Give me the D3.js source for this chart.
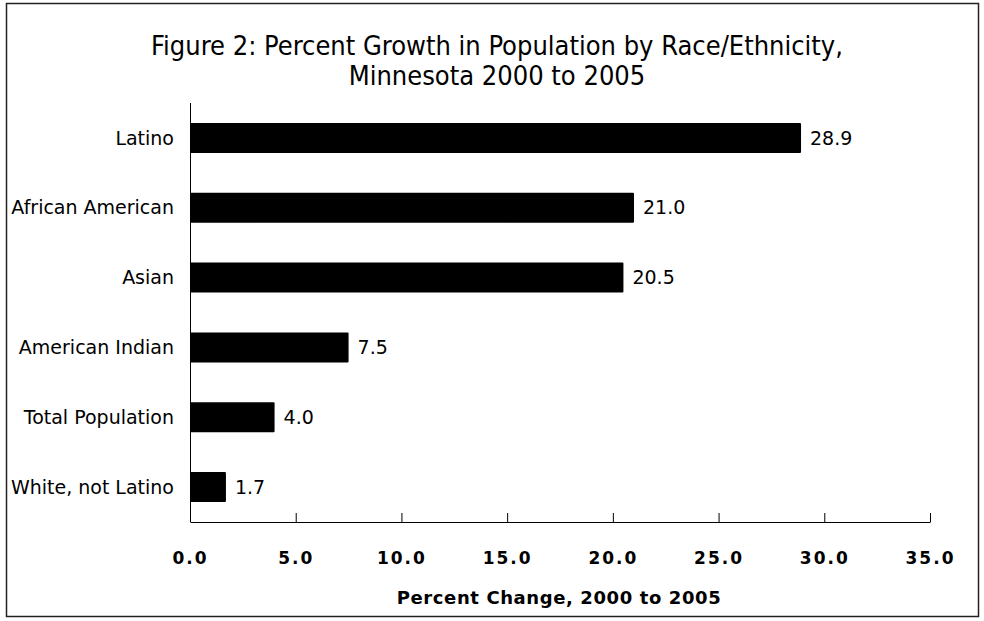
<!DOCTYPE html>
<meta charset="utf-8">
<html>
<head>
<style>
  body { margin: 0; background: #fff; }
  text { fill: #000; }
</style>
</head>
<body>
<script src="https://d3js.org/d3.v7.min.js"></script>
<div id="chart"></div>
<script>
// data
var groups = ["Latino", "African American", "Asian", "American Indian", "Total Population", "White, not Latino"];
var growth = [28.9, 21.0, 20.5, 7.5, 4.0, 1.7];
var tickValues = [0, 5, 10, 15, 20, 25, 30, 35];

var W = 984, H = 621;
var margin = {top: 103, right: 54, bottom: 99, left: 190},
    width = W - margin.left - margin.right,
    height = H - margin.top - margin.bottom;

var svg = d3.select("#chart").append("svg")
    .attr("width", W)
    .attr("height", H);

// outer frame
svg.append("rect")
    .attr("x", 6.5).attr("y", 3.5)
    .attr("width", 972).attr("height", 613)
    .attr("fill", "none")
    .attr("stroke", "#222")
    .attr("stroke-width", 1.5);

// title
var title = svg.append("text")
    .attr("text-anchor", "middle")
    .style("font-family", "'DejaVu Sans Condensed', 'DejaVu Sans', sans-serif")
    .style("font-size", "27px");
title.append("tspan").attr("x", 497).attr("y", 55)
    .text("Figure 2: Percent Growth in Population by Race/Ethnicity,");
title.append("tspan").attr("x", 497).attr("y", 85)
    .text("Minnesota 2000 to 2005");

var g = svg.append("g")
    .attr("transform", "translate(" + margin.left + "," + margin.top + ")");

var x = d3.scaleLinear().domain([0, 35]).range([0, width]);
var y = d3.scaleBand().domain(groups).range([0, height]).paddingInner(0.57).paddingOuter(0.285);

// bars
g.selectAll("rect.bar")
    .data(groups)
    .enter().append("rect")
    .attr("class", "bar")
    .attr("x", 0)
    .attr("y", function(d) { return y(d); })
    .attr("width", function(d, i) { return x(growth[i]); })
    .attr("height", y.bandwidth())
    .attr("rx", 1)
    .attr("fill", "#000");

// value labels
g.selectAll("text.val")
    .data(groups)
    .enter().append("text")
    .attr("class", "val")
    .attr("x", function(d, i) { return x(growth[i]) + 9; })
    .attr("y", function(d) { return y(d) + y.bandwidth() / 2; })
    .attr("dy", "0.35em")
    .style("font-family", "'DejaVu Sans', sans-serif")
    .style("font-size", "19px")
    .text(function(d, i) { return growth[i].toFixed(1); });

// category labels
g.selectAll("text.cat")
    .data(groups)
    .enter().append("text")
    .attr("class", "cat")
    .attr("x", -16)
    .attr("y", function(d) { return y(d) + y.bandwidth() / 2; })
    .attr("dy", "0.35em")
    .attr("text-anchor", "end")
    .style("font-family", "'DejaVu Sans', sans-serif")
    .style("font-size", "19px")
    .text(function(d) { return d; });

// y axis line
g.append("line")
    .attr("x1", 0.5).attr("x2", 0.5)
    .attr("y1", 0).attr("y2", height)
    .attr("stroke", "#000");

// x axis
var xAxis = g.append("g")
    .attr("transform", "translate(0," + height + ")")
    .call(d3.axisBottom(x).tickValues(tickValues).tickSize(-9).tickPadding(0).tickFormat(d3.format(".1f")));
xAxis.select(".domain").attr("d", "M0.5,0.5H" + (width + 0.5));
xAxis.selectAll(".tick line").attr("stroke", "#000");
xAxis.selectAll(".tick text")
    .attr("y", 30)
    .style("font-family", "'DejaVu Sans', sans-serif")
    .style("font-size", "17px")
    .style("font-weight", "bold")
    .style("letter-spacing", "2px");

svg.append("text")
    .attr("x", 559).attr("y", 604)
    .attr("text-anchor", "middle")
    .style("font-family", "'DejaVu Sans', sans-serif")
    .style("font-size", "18px")
    .style("font-weight", "bold")
    .style("letter-spacing", "0.6px")
    .text("Percent Change, 2000 to 2005");
</script>
</body>
</html>
